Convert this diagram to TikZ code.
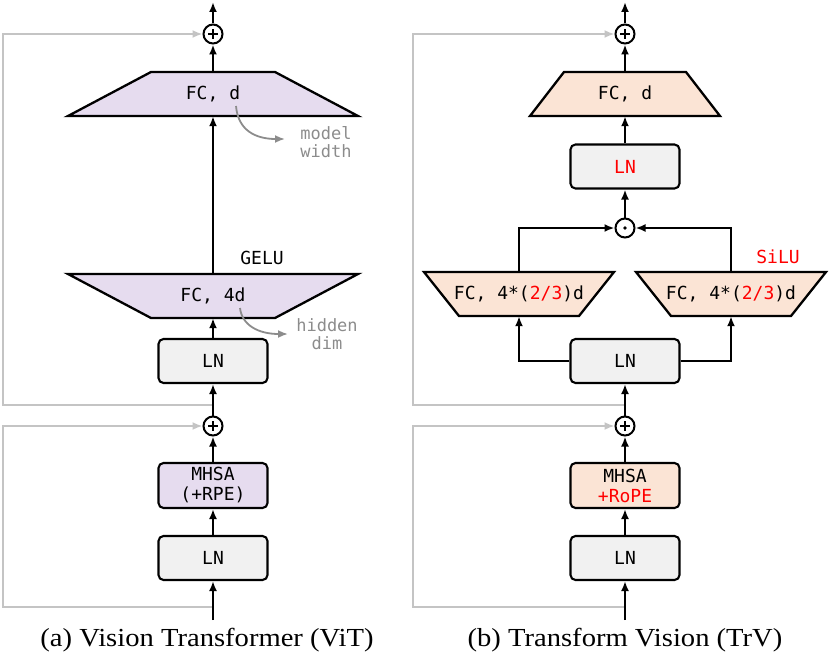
\documentclass[tikz,border=0pt]{standalone}
\usepackage{fontspec}
\setmainfont{Liberation Serif}[FakeStretch=1.1]
\setmonofont{DejaVu Sans Mono}
\usetikzlibrary{arrows.meta, positioning, calc}
\definecolor{vitfill}{HTML}{E6DCEF}
\definecolor{trvfill}{HTML}{FBE4D5}
\definecolor{lnfill}{HTML}{F1F1F1}
\definecolor{skipgray}{HTML}{C4C4C4}
\definecolor{notegray}{HTML}{8C8C8C}
\definecolor{trvred}{HTML}{FF0000}
\tikzset{
  blk/.style={rectangle, rounded corners=5pt, draw=black, line width=2.1pt, minimum width=109pt,
    minimum height=44pt, font=\ttfamily\fontsize{18}{20}\selectfont, align=center, inner sep=0pt},
  lnbox/.style={blk, fill=lnfill},
  attnbox/.style={blk, fill=#1, minimum height=45pt},
  fclabel/.style={inner sep=0pt, minimum height=44pt, font=\ttfamily\fontsize{18}{20}\selectfont},
  trap/.style={draw=black, line width=2.3pt, fill=#1},
  opnode/.style={circle, draw=black, line width=2pt, minimum size=19pt, inner sep=0pt, fill=white},
  addop/.style={opnode, path picture={
      \draw[black, line width=1.3pt] ([xshift=-5pt]path picture bounding box.center) -- ([xshift=5pt]path picture bounding box.center);
      \draw[black, line width=1.3pt] ([yshift=-5pt]path picture bounding box.center) -- ([yshift=5pt]path picture bounding box.center);}},
  mulop/.style={opnode, path picture={\fill[black] (path picture bounding box.center) circle (1.8pt);}},
  arr/.style={-{Latex[length=10pt,width=8pt]}, line width=2pt},
  skiparr/.style={-{Latex[length=10pt,width=8pt]}, line width=1.8pt, skipgray},
  notetext/.style={font=\ttfamily\fontsize{17}{18}\selectfont, text=notegray, align=center, inner sep=0pt},
  notearr/.style={-{Latex[length=10pt,width=8pt]}, line width=1.8pt, notegray},
  acttext/.style={font=\ttfamily\fontsize{18}{20}\selectfont, inner sep=0pt},
  capt/.style={font=\fontsize{26}{28}\selectfont, inner sep=0pt},
}

\begin{document}
\begin{tikzpicture}[x=1pt, y=-1pt]
  \useasboundingbox (0,0) rectangle (830,661);

  % (a) ViT block
  \coordinate (vout) at (213,2);
  \coordinate (vin) at (213,620);
  \coordinate (vtap2) at (213,405);
  \coordinate (vtap1) at (213,607);
  \filldraw[trap=vitfill] (68,116) -- (151,72) -- (275,72) -- (358,116) -- cycle;
  \filldraw[trap=vitfill] (68,274) -- (151,318) -- (275,318) -- (358,274) -- cycle;
  \node[addop] (vadd2) at (213,34) {};
  \node[fclabel] (vfcd) at (213,94) {FC, d};
  \node[fclabel] (vfc4) at (213,296) {FC, 4d};
  \node[lnbox] (vln2) at (213,361) {LN};
  \node[addop] (vadd1) at (213,426) {};
  \node[attnbox=vitfill] (vattn) at (213,485.5) {MHSA\\(+RPE)};
  \node[lnbox] (vln1) at (213,558) {LN};
  \node[acttext] (vgelu) at (262,258) {GELU};
  \node[notetext] (vwidth) at (326,142) {model\\width};
  \node[notetext] (vhidden) at (327,334) {hidden\\dim};
  \coordinate (vwtail) at (236,106);
  \coordinate (vwtip) at (285,139);
  \coordinate (vhtail) at (240,308);
  \coordinate (vhtip) at (288,334);

  \draw[skiparr] (vtap2) -- ++(-210,0) |- (vadd2.west);
  \draw[skiparr] (vtap1) -- ++(-210,0) |- (vadd1.west);
  \draw[arr] (vadd2.north) -- (vout);
  \draw[arr] (vfcd.north) -- (vadd2.south);
  \draw[arr] (vfc4.north) -- (vfcd.south);
  \draw[arr] (vln2.north) -- (vfc4.south);
  \draw[arr] (vadd1.north) -- (vln2.south);
  \draw[arr] (vattn.north) -- (vadd1.south);
  \draw[arr] (vln1.north) -- (vattn.south);
  \draw[arr] (vin) -- (vln1.south);
  \draw[notearr] (vwtail) .. controls (238,130) and (255,139) .. (vwtip);
  \draw[notearr] (vhtail) .. controls (242,325) and (258,334) .. (vhtip);
  \node[capt] (vcap) at (207,640) {(a) Vision Transformer (ViT)};

  % (b) TrV block
  \coordinate (tout) at (625,2);
  \coordinate (tin) at (625,620);
  \coordinate (ttap2) at (625,405);
  \coordinate (ttap1) at (625,607);
  \filldraw[trap=trvfill] (530,116) -- (564,72) -- (686,72) -- (720,116) -- cycle;
  \filldraw[trap=trvfill] (424,272) -- (459,316) -- (579,316) -- (614,272) -- cycle;
  \filldraw[trap=trvfill] (636,272) -- (671,316) -- (791,316) -- (826,272) -- cycle;
  \node[addop] (tadd2) at (625,34) {};
  \node[fclabel] (tfcd) at (625,94) {FC, d};
  \node[lnbox, text=trvred] (tln3) at (625,166.5) {LN};
  \node[mulop] (tmul) at (625,228) {};
  \node[fclabel] (tfcl) at (519,294) {FC, 4*(\textcolor{trvred}{2/3})d};
  \node[fclabel] (tfcr) at (731,294) {FC, 4*(\textcolor{trvred}{2/3})d};
  \node[lnbox] (tln2) at (625,361) {LN};
  \node[addop] (tadd1) at (625,426) {};
  \node[attnbox=trvfill] (tattn) at (625,485.5) {MHSA\\\textcolor{trvred}{+RoPE}};
  \node[lnbox] (tln1) at (625,558) {LN};
  \node[acttext, text=trvred] (tsilu) at (778,257) {SiLU};

  \draw[skiparr] (ttap2) -- ++(-212,0) |- (tadd2.west);
  \draw[skiparr] (ttap1) -- ++(-212,0) |- (tadd1.west);
  \draw[arr] (tadd2.north) -- (tout);
  \draw[arr] (tfcd.north) -- (tadd2.south);
  \draw[arr] (tln3.north) -- (tfcd.south);
  \draw[arr] (tmul.north) -- (tln3.south);
  \draw[arr] (tfcl.north) |- (tmul.west);
  \draw[arr] (tfcr.north) |- (tmul.east);
  \draw[arr] (tln2.west) -| (tfcl.south);
  \draw[arr] (tln2.east) -| (tfcr.south);
  \draw[arr] (tadd1.north) -- (tln2.south);
  \draw[arr] (tattn.north) -- (tadd1.south);
  \draw[arr] (tln1.north) -- (tattn.south);
  \draw[arr] (tin) -- (tln1.south);
  \node[capt] (tcap) at (625,640) {(b) Transform Vision (TrV)};
\end{tikzpicture}
\end{document}
